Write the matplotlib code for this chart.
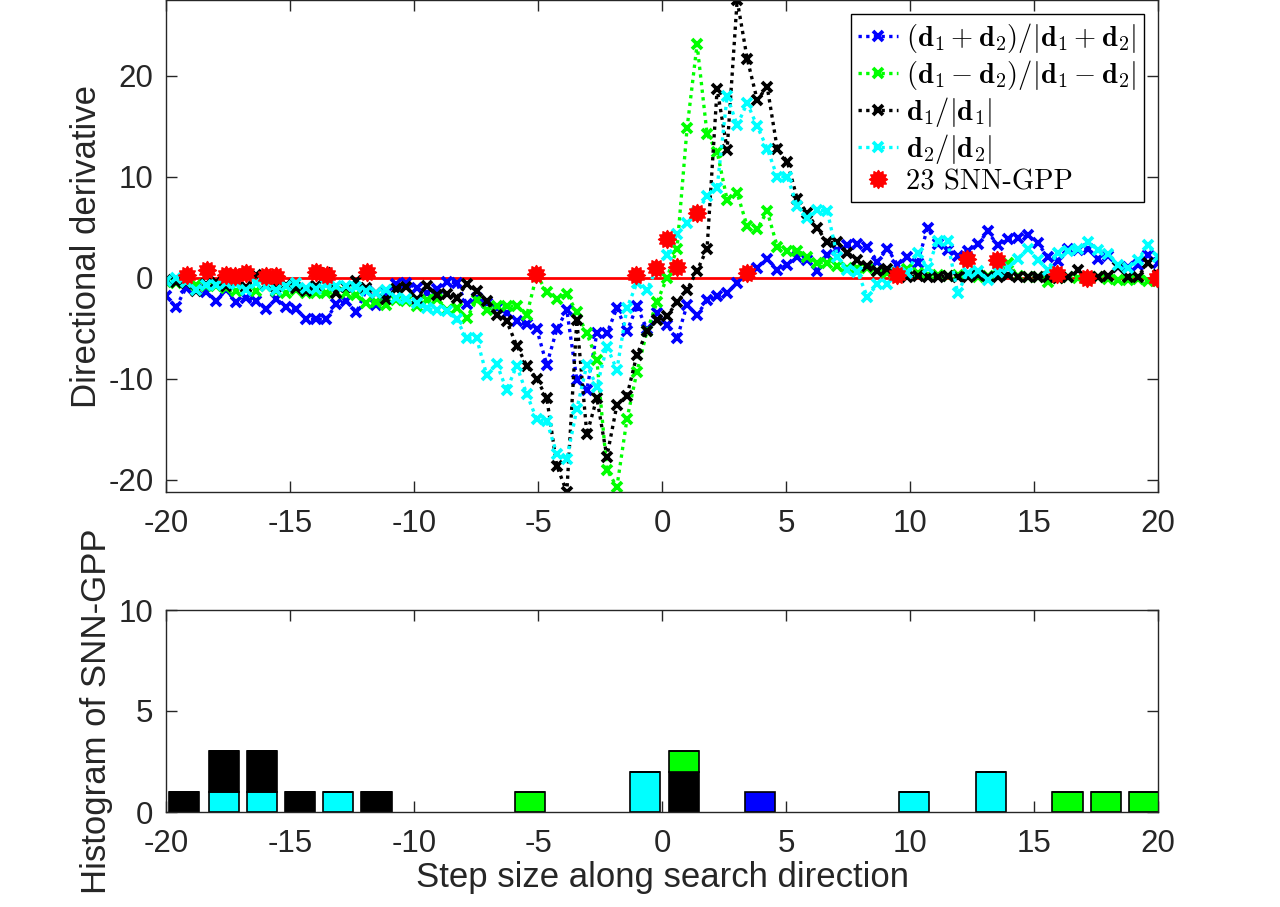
import numpy as np
import matplotlib
matplotlib.use("Agg")
import matplotlib.pyplot as plt
from matplotlib.path import Path

plt.rcParams['font.family'] = ['Liberation Sans', 'DejaVu Sans']
plt.rcParams['mathtext.fontset'] = 'cm'
plt.rcParams['axes.unicode_minus'] = False

# step sizes along the search direction (100 samples)
x = np.linspace(-20, 20, 100)

d_sum = [-1.8, -2.9, -1.0, -1.1, -1.4, -2.3, -1.2, -2.4, -2.0, -2.3,
         -3.1, -2.1, -2.9, -3.1, -4.1, -4.1, -4.1, -2.6, -2.3, -3.4,
         -1.2, -2.7, -1.5, -0.6, -0.5, -1.0, -1.5, -1.1, -0.4, -0.5,
         -2.6, -2.0, -2.5, -3.0, -3.5, -4.3, -4.6, -5.1, -8.6, -5.1,
         -3.2, -10.1, -11.1, -5.5, -5.5, -3.0, -5.3, -2.8, -5.1, -3.5,
         -4.7, -6.0, -2.7, -3.7, -2.2, -1.8, -1.5, -0.5, 0.3, 1.0,
         1.9, 0.8, 1.3, 2.1, 1.8, 0.7, 2.3, 2.8, 3.2, 3.3,
         3.1, 1.6, 2.9, 1.3, 2.1, 1.5, 4.9, 3.3, 2.8, 2.2,
         2.7, 3.3, 4.6, 3.2, 3.8, 3.9, 4.2, 3.4, 2.1, 1.7,
         2.9, 2.8, 2.9, 1.9, 2.2, 1.1, 1.1, 1.3, 2.3, 1.5]

d_diff = [-0.4, -0.5, -0.3, -0.7, -0.8, -0.8, -1.0, -1.3, -1.0, -1.3,
          -0.8, -1.3, -1.5, -1.2, -1.5, -1.5, -1.5, -1.4, -1.5, -1.7,
          -2.5, -2.4, -2.7, -2.2, -2.3, -2.8, -2.2, -2.1, -3.2, -3.0,
          -4.0, -2.2, -3.2, -2.8, -2.8, -2.8, -3.7, 0.3, -1.4, -2.1,
          -1.6, -3.4, -5.5, -8.1, -19.0, -20.7, -14.0, -9.3, -5.3, -2.4,
          0.0, 2.9, 14.8, 23.1, 14.2, 12.5, 7.7, 8.4, 5.1, 4.8,
          6.6, 3.1, 2.7, 2.7, 2.1, 1.5, 1.5, 1.2, 1.0, 1.0,
          1.0, 0.7, 0.5, 0.4, 0.9, 0.5, 0.3, 0.3, 0.2, 0.3,
          0.2, 0.1, 0.2, 0.2, 1.5, 0.2, 0.1, 0.1, -0.4, 0.0,
          0.1, 0.0, -0.1, 0.1, -0.1, -0.2, -0.2, -0.1, -0.3, -0.3]

d_one = [-0.2, -0.4, -0.5, -1.3, -0.6, -0.4, -0.8, -0.5, -0.9, 0.3,
         -0.7, -0.9, -0.7, -1.0, -1.3, -0.8, 0.5, -1.5, -0.9, -0.3,
         -1.0, -1.5, -2.1, -1.1, -0.9, -2.1, -0.8, -1.7, -1.6, -2.0,
         -0.6, -1.3, -2.3, -3.7, -4.3, -6.7, -8.7, -10.0, -11.9, -18.6,
         -21.2, -4.2, -15.5, -11.9, -17.7, -12.6, -11.7, -7.6, -5.3, -4.2,
         -3.8, -2.4, -1.2, 0.7, 2.9, 18.7, 12.7, 27.5, 21.7, 17.6,
         18.9, 12.8, 11.5, 7.8, 6.4, 4.9, 3.5, 3.5, 2.5, 1.8,
         1.2, 0.7, 0.9, 0.3, 0.1, 0.2, 0.1, 0.1, 0.2, 0.1,
         0.1, 0.3, 0.1, 0.1, 0.3, 0.1, 0.1, 0.1, 0.1, 0.0,
         0.1, 0.8, 0.1, 0.1, 0.2, 1.1, 0.1, 0.1, 1.5, 0.3]

d_two = [-0.3, 0.0, -0.4, -1.2, -0.7, -0.7, -0.5, -0.6, -1.2, -0.5,
         -0.8, -1.2, -0.8, -0.5, -1.0, -1.1, -0.7, -0.8, -0.8, -0.9,
         -1.3, -1.5, -1.2, -2.0, -2.1, -2.5, -3.0, -3.2, -3.3, -4.1,
         -6.0, -6.0, -9.6, -8.5, -11.1, -8.7, -11.5, -14.0, -14.2, -17.4,
         -17.9, -13.0, -8.6, -10.8, -6.8, -9.1, -3.0, -0.5, -1.2, 1.0,
         2.3, 4.3, 5.4, 6.5, 8.1, 8.9, 18.0, 15.1, 17.3, 15.0,
         12.8, 10.0, 10.0, 7.1, 5.9, 6.7, 6.6, 2.1, 0.8, 0.6,
         -1.9, -0.6, -0.6, 0.6, 0.5, 2.5, 1.0, 3.6, 3.6, -1.5,
         0.5, 0.7, -0.2, 0.6, 1.0, 1.9, 2.9, 1.8, 0.8, 2.5,
         2.7, 2.9, 3.5, 2.8, 2.4, 1.3, 1.0, 1.8, 3.2, 2.1]

# the 23 SNN-GPP points
gpp_x = [-19.17, -18.36, -17.58, -17.2, -16.77, -15.97, -15.56, -13.95, -13.52,
         -11.9, -5.1, -1.04, -0.24, 0.22, 0.62, 1.43, 3.44, 9.49, 12.28, 13.52,
         15.91, 17.12, 19.97]
gpp_y = [0.3, 0.8, 0.3, 0.2, 0.5, 0.2, 0.2, 0.6, 0.3,
         0.6, 0.4, 0.3, 1.0, 3.8, 1.1, 6.4, 0.5, 0.3, 1.85, 1.8,
         0.4, 0.0, 0.0]

# histogram of SNN-GPP, stacked by direction
hist_centers = [-19.27, -17.66, -16.13, -14.6, -13.06, -11.5, -5.32, -0.69,
                0.89, 3.95, 10.16, 13.27, 16.35, 17.9, 19.45]
cnt_cyan = [0, 1, 1, 0, 1, 0, 0, 2, 0, 0, 1, 2, 0, 0, 0]
cnt_black = [1, 2, 2, 1, 0, 1, 0, 0, 2, 0, 0, 0, 0, 0, 0]
cnt_green = [0, 0, 0, 0, 0, 0, 1, 0, 1, 0, 0, 0, 1, 1, 1]
cnt_blue = [0, 0, 0, 0, 0, 0, 0, 0, 0, 1, 0, 0, 0, 0, 0]

labels = [r'$(\mathbf{d}_1+\mathbf{d}_2)/|\mathbf{d}_1+\mathbf{d}_2|$',
          r'$(\mathbf{d}_1-\mathbf{d}_2)/|\mathbf{d}_1-\mathbf{d}_2|$',
          r'$\mathbf{d}_1/|\mathbf{d}_1|$',
          r'$\mathbf{d}_2/|\mathbf{d}_2|$']
colors = ['#0000ff', '#00ff00', '#000000', '#00ffff']
axcol = '#262626'

# spiky red disc marker
n = 12
ang = np.pi * np.arange(2 * n) / n + np.pi / 2
rad = np.where(np.arange(2 * n) % 2 == 0, 1.0, 0.72)
verts = np.column_stack([rad * np.cos(ang), rad * np.sin(ang)])
verts = np.vstack([verts, verts[:1]])
star = Path(verts, closed=True)

fig = plt.figure(figsize=(12.8, 9.07), dpi=100)
W, H = 1280, 907
ax1 = fig.add_axes([166 / W, 1 - 492 / H, 992 / W, 492 / H])
ax2 = fig.add_axes([166 / W, 1 - 812 / H, 992 / W, 202 / H])

ax1.axhline(0, color='#ff0000', lw=2, zorder=1)
for ys, c, lab in zip([d_sum, d_diff, d_one, d_two], colors, labels):
    ax1.plot(x, ys, color=c, ls=(0, (1, 1.3)), lw=2.4, marker='x', ms=7,
             mew=2.7, label=lab, zorder=2)
ax1.plot(gpp_x, gpp_y, ls='none', marker=star, ms=13, color='#ff0000',
         mec='#ff0000', label='23 SNN-GPP', zorder=3)

ax1.set_xlim(-20, 20)
ax1.set_ylim(-21.2, 27.5)
ax1.set_yticks([-20, -10, 0, 10, 20])
ax1.set_xticks(range(-20, 21, 5))
ax1.set_ylabel('Directional derivative', fontsize=25, color=axcol)

leg = ax1.legend(loc='upper right', prop={'family': 'cmr10', 'size': 20.5},
                 frameon=True, fancybox=False, framealpha=1, edgecolor='k',
                 handlelength=1.4, handletextpad=0.3, labelspacing=0.1,
                 borderpad=0.25, borderaxespad=0.5, numpoints=1)
leg.get_frame().set_linewidth(1.0)

bottom = np.zeros(len(hist_centers))
for cnt, c in zip([cnt_cyan, cnt_black, cnt_green, cnt_blue],
                  ['#00ffff', '#000000', '#00ff00', '#0000ff']):
    cnt = np.array(cnt, dtype=float)
    ax2.bar(hist_centers, cnt, width=1.24, bottom=bottom, color=c,
            edgecolor='k', linewidth=1.2, zorder=2)
    bottom = bottom + cnt
ax2.set_axisbelow(True)
ax2.set_xlim(-20, 20)
ax2.set_ylim(0, 10)
ax2.set_yticks([0, 5, 10])
ax2.set_xticks(range(-20, 21, 5))
ax2.set_ylabel('Histogram of SNN-GPP', fontsize=25, color=axcol)
ax2.set_xlabel('Step size along search direction', fontsize=25, color=axcol,
               labelpad=2)

for ax in (ax1, ax2):
    ax.tick_params(direction='in', length=8, width=1, top=True, right=True,
                   labelsize=22.5, colors=axcol)
    ax.tick_params(axis='y', pad=9)
    ax.tick_params(axis='x', pad=12)
    for s in ax.spines.values():
        s.set_linewidth(1.0)
        s.set_color(axcol)

fig.savefig('out.png', dpi=100)
